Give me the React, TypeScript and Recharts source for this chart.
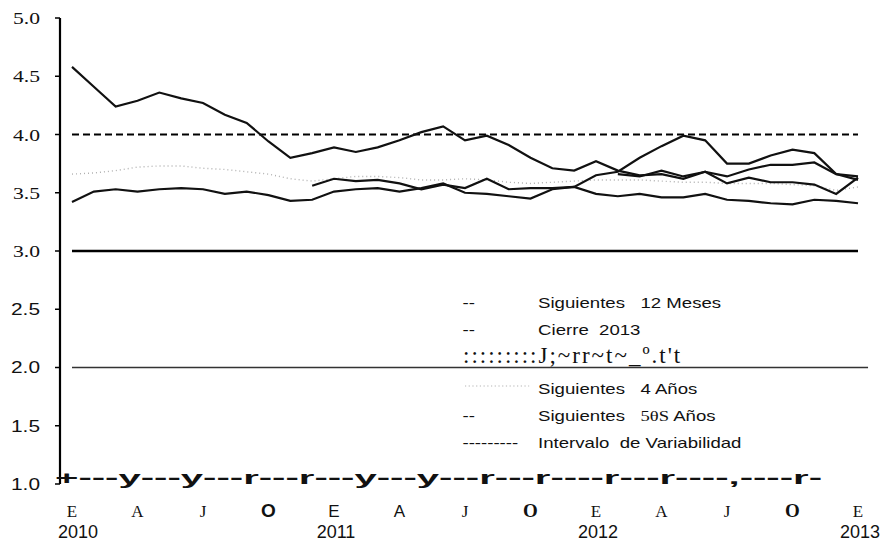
import React from 'react';
import { LineChart, Line, XAxis, YAxis, ReferenceLine, Legend } from 'recharts';

const years = ['2010', '2011', '2012', '2013'];
const monthAbbr = ['Ene', 'Feb', 'Mar', 'Abr', 'May', 'Jun', 'Jul', 'Ago', 'Sep', 'Oct', 'Nov', 'Dic'];
const months = [...years.slice(0, 3).flatMap((y) => monthAbbr.map((m) => `${m} ${y}`)), 'Ene 2013'];

const xTickLabels = ['E', 'A', 'J', 'O', 'E', 'A', 'J', 'O', 'E', 'A', 'J', 'O', 'E'];
const yTicks = [1.0, 1.5, 2.0, 2.5, 3.0, 3.5, 4.0, 4.5, 5.0];

const sig12 = [4.58, 4.41, 4.24, 4.29, 4.36, 4.31, 4.27, 4.17, 4.10, 3.94, 3.80, 3.84, 3.89, 3.85, 3.89, 3.95, 4.02, 4.07, 3.95, 3.99, 3.91, 3.80, 3.71, 3.69, 3.77, 3.69, 3.65, 3.66, 3.62, 3.68, 3.58, 3.63, 3.59, 3.59, 3.57, 3.49, 3.63];
const cierreA = [null, null, null, null, null, null, null, null, null, null, null, 3.56, 3.62, 3.60, 3.61, 3.58, 3.53, 3.57, 3.54, 3.62, 3.53, 3.54, 3.54, 3.55, 3.65, 3.68, 3.80, 3.90, 3.99, 3.95, 3.75, 3.75, 3.82, 3.87, 3.84, 3.66, 3.61];
const cierre2013 = [null, null, null, null, null, null, null, null, null, null, null, null, null, null, null, null, null, null, null, null, null, null, null, null, null, 3.66, 3.64, 3.69, 3.64, 3.68, 3.64, 3.70, 3.74, 3.74, 3.76, 3.66, 3.64];
const sig4 = [3.66, 3.67, 3.69, 3.72, 3.73, 3.73, 3.71, 3.70, 3.68, 3.66, 3.62, 3.60, 3.62, 3.64, 3.64, 3.63, 3.61, 3.61, 3.62, 3.61, 3.59, 3.58, 3.59, 3.60, 3.61, 3.61, 3.61, 3.60, 3.59, 3.59, 3.58, 3.58, 3.58, 3.57, 3.56, 3.52, 3.55];
const sig58 = [3.42, 3.51, 3.53, 3.51, 3.53, 3.54, 3.53, 3.49, 3.51, 3.48, 3.43, 3.44, 3.51, 3.53, 3.54, 3.51, 3.54, 3.58, 3.50, 3.49, 3.47, 3.45, 3.53, 3.55, 3.49, 3.47, 3.49, 3.46, 3.46, 3.49, 3.44, 3.43, 3.41, 3.40, 3.44, 3.43, 3.41];

const axisGarble = '+---y---y---r---r---y---y---r---r----r---r----,----r-';
const legendGarble = ':::::::::J;~rr~t~_º.t\'t';

const data = months.map((month, i) => ({
  i,
  month,
  sig12: sig12[i],
  cierreA: cierreA[i],
  cierre2013: cierre2013[i],
  sig4: sig4[i],
  sig58: sig58[i],
}));

const sans = '"Liberation Sans", Arial, sans-serif';
const serif = '"Liberation Serif", "Times New Roman", serif';

const YTick = (props: any) => {
  const { x, y, payload } = props;
  const v = payload.value as number;
  const isSerif = v >= 3;
  return (
    <text
      x={x - 15}
      y={y}
      dy="0.36em"
      textAnchor="end"
      fontFamily={isSerif ? serif : sans}
      fontSize={isSerif ? 17 : 16}
      textLength={isSerif ? 27 : 29}
      lengthAdjust="spacingAndGlyphs"
      fill="#111"
    >
      {v.toFixed(1)}
    </text>
  );
};

const XTick = (props: any) => {
  const { x, y, payload } = props;
  const q = Math.round(payload.value / 3);
  const letter = xTickLabels[q];
  const sansLetter = q >= 3 && q <= 5;
  const year = payload.value % 12 === 0 ? years[payload.value / 12] : null;
  return (
    <g>
      {q === 0 && (
        <text x={x - 17} y={y} fontFamily={sans} fontWeight="bold" fontSize={18} textLength={767} lengthAdjust="spacingAndGlyphs" fill="#111">
          {axisGarble}
        </text>
      )}
      <text
        x={x}
        y={y + 33}
        textAnchor="middle"
        fontFamily={sansLetter ? sans : serif}
        fontWeight={letter === 'O' ? 'bold' : 'normal'}
        fontSize={letter === 'O' ? 19 : 17}
        fill="#111"
      >
        {letter}
      </text>
      {year && (
        <text x={x + (q === 0 ? 6 : 2)} y={y + 54} textAnchor="middle" fontFamily={sans} fontSize={18} fill="#111">
          {year}
        </text>
      )}
    </g>
  );
};

const rowStyle = (center: number): React.CSSProperties => ({
  position: 'absolute',
  left: 0,
  top: center - 10,
  height: 20,
  lineHeight: '20px',
  width: 300,
  whiteSpace: 'pre',
  transform: 'scaleX(1.24)',
  transformOrigin: 'left center',
});

const LegendBox = () => (
  <div style={{ position: 'relative', width: 420, height: 170, fontFamily: sans, fontSize: 15, color: '#111' }}>
    <div style={rowStyle(12.7)}>
      <span style={{ position: 'absolute', left: 6 }}>--</span>
      <span style={{ position: 'absolute', left: 67 }}>{'Siguientes   12 Meses'}</span>
    </div>
    <div style={rowStyle(40)}>
      <span style={{ position: 'absolute', left: 6 }}>--</span>
      <span style={{ position: 'absolute', left: 67 }}>{'Cierre  2013'}</span>
    </div>
    <div style={{ position: 'absolute', left: 8, top: 53, lineHeight: '26px', fontFamily: serif, fontSize: 23, letterSpacing: 2, whiteSpace: 'pre' }}>
      {legendGarble}
    </div>
    <div style={rowStyle(99)}>
      <svg style={{ position: 'absolute', left: 8, top: 4 }} width={52} height={6}>
        <line x1={0} y1={3} x2={52} y2={3} stroke="#b5b5b5" strokeWidth={1.2} strokeDasharray="1 2" />
      </svg>
      <span style={{ position: 'absolute', left: 67 }}>{'Siguientes   4 Años'}</span>
    </div>
    <div style={rowStyle(126)}>
      <span style={{ position: 'absolute', left: 6 }}>--</span>
      <span style={{ position: 'absolute', left: 67 }}>
        {'Siguientes   '}
        <span style={{ fontFamily: serif }}>5θS</span>
        {' Años'}
      </span>
    </div>
    <div style={rowStyle(153)}>
      <span style={{ position: 'absolute', left: 6 }}>---------</span>
      <span style={{ position: 'absolute', left: 67 }}>{'Intervalo  de Variabilidad'}</span>
    </div>
  </div>
);

export default function App() {
  return (
    <div style={{ position: 'absolute', left: 0, top: 0, width: 885, height: 541, background: '#fff' }}>
      <LineChart width={885} height={541} data={data} margin={{ top: 18, right: 17, bottom: 0, left: 0 }}>
        <XAxis
          type="number"
          dataKey="i"
          domain={[0, 36]}
          ticks={xTickLabels.map((_, k) => k * 3)}
          interval={0}
          padding={{ left: 12, right: 10 }}
          axisLine={false}
          tickLine={false}
          tickSize={0}
          tickMargin={0}
          height={57}
          tick={<XTick />}
        />
        <YAxis
          domain={[1, 5]}
          ticks={yTicks}
          interval={0}
          width={60}
          axisLine={{ stroke: '#000', strokeWidth: 2.2 }}
          tickLine={{ stroke: '#000', strokeWidth: 1.5 }}
          tickSize={5}
          tickMargin={0}
          tick={<YTick />}
        />
        <ReferenceLine segment={[{ x: 0, y: 2 }, { x: 36.46, y: 2 }]} ifOverflow="visible" stroke="#333" strokeWidth={1.3} />
        <ReferenceLine segment={[{ x: 0, y: 3 }, { x: 36, y: 3 }]} stroke="#000" strokeWidth={2.6} />
        <ReferenceLine segment={[{ x: 0, y: 4 }, { x: 36, y: 4 }]} stroke="#000" strokeWidth={2} strokeDasharray="7 4" />
        <Line type="linear" dataKey="sig4" stroke="#b0b0b0" strokeWidth={1.4} strokeDasharray="1 3" dot={false} isAnimationActive={false} />
        <Line type="linear" dataKey="sig58" stroke="#111" strokeWidth={2.2} dot={false} isAnimationActive={false} />
        <Line type="linear" dataKey="cierre2013" stroke="#111" strokeWidth={2.2} dot={false} isAnimationActive={false} />
        <Line type="linear" dataKey="cierreA" stroke="#111" strokeWidth={2.2} dot={false} isAnimationActive={false} />
        <Line type="linear" dataKey="sig12" stroke="#111" strokeWidth={2.2} dot={false} isAnimationActive={false} />
        <Legend
          layout="vertical"
          align="center"
          verticalAlign="middle"
          wrapperStyle={{ left: 455, top: 290, width: 420, height: 170 }}
          content={() => <LegendBox />}
        />
      </LineChart>
    </div>
  );
}
